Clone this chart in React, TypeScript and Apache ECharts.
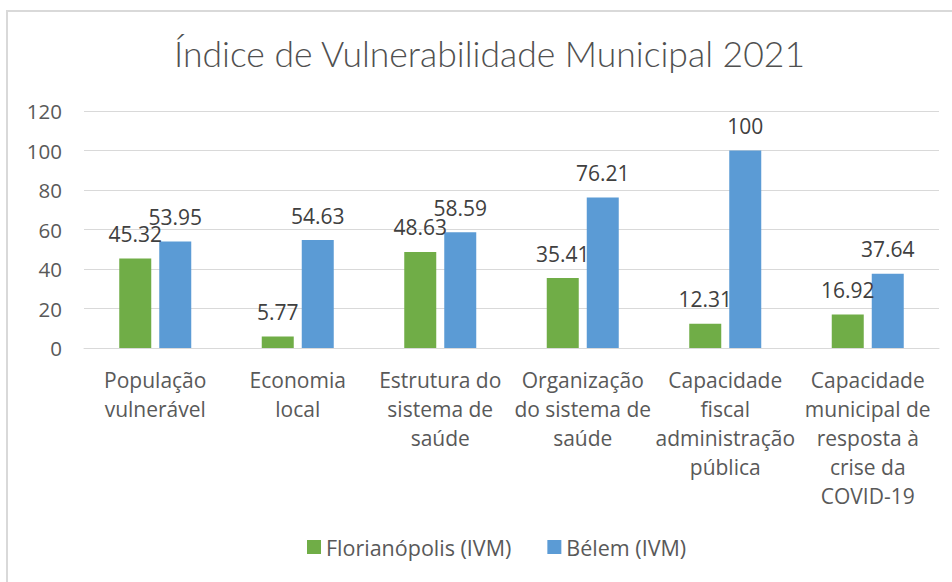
import React, { useEffect, useRef } from "react";
import * as echarts from "echarts";

const categories = [
  "População\nvulnerável",
  "Economia\nlocal",
  "Estrutura do\nsistema de\nsaúde",
  "Organização\ndo sistema de\nsaúde",
  "Capacidade\nfiscal\nadministração\npública",
  "Capacidade\nmunicipal de\nresposta à\ncrise da\nCOVID-19",
];
const florianopolis = [45.32, 5.77, 48.63, 35.41, 12.31, 16.92];
const belem = [53.95, 54.63, 58.59, 76.21, 100, 37.64];
const seriesNames = ["Florianópolis (IVM)", "Bélem (IVM)"];
const titleText = "Índice de Vulnerabilidade Municipal 2021";

const FONT = "'Open Sans', 'Noto Sans', sans-serif";
const TITLE_FONT = "Lato, 'Open Sans', sans-serif";

export default function App() {
  const ref = useRef<HTMLDivElement>(null);
  useEffect(() => {
    if (!ref.current) return;
    const chart = echarts.init(ref.current, undefined, { renderer: "svg" });
    const labelStyle = {
      show: true,
      position: "top" as const,
      distance: 14,
      fontSize: 21,
      color: "#404040",
      fontFamily: FONT,
    };
    chart.setOption({
      animation: false,
      backgroundColor: "#ffffff",
      textStyle: { fontFamily: FONT },
      title: {
        text: titleText,
        left: 169,
        top: 30,
        textStyle: {
          fontSize: 35.5,
          fontWeight: 300,
          color: "#505050",
          fontFamily: TITLE_FONT,
        },
      },
      graphic: [
        {
          type: "rect",
          shape: { x: 7, y: 11, width: 1000, height: 700 },
          style: { fill: "none", stroke: "#d9d9d9", lineWidth: 2 },
          silent: true,
          z: -1,
        },
      ],
      legend: {
        data: seriesNames,
        bottom: 19,
        left: 302,
        itemWidth: 14,
        itemHeight: 14,
        itemGap: 36,
        icon: "rect",
        textStyle: { fontSize: 21.5, color: "#595959", fontFamily: FONT },
      },
      grid: { left: 84, right: 13, top: 111, bottom: 234, containLabel: false },
      xAxis: {
        type: "category",
        data: categories,
        axisLine: { lineStyle: { color: "#d9d9d9", width: 1 } },
        axisTick: { show: false },
        axisLabel: {
          interval: 0,
          fontSize: 21,
          lineHeight: 29,
          color: "#595959",
          margin: 17,
          fontFamily: FONT,
        },
      },
      yAxis: {
        type: "value",
        min: 0,
        max: 120,
        interval: 20,
        axisLine: { show: false },
        axisTick: { show: false },
        splitLine: { lineStyle: { color: "#d9d9d9", width: 1 } },
        axisLabel: { fontSize: 20.5, color: "#595959", margin: 22, fontFamily: FONT },
      },
      series: [
        {
          name: seriesNames[0],
          type: "bar",
          data: florianopolis,
          barWidth: 32,
          barGap: "25%",
          itemStyle: { color: "#70AD47" },
          label: labelStyle,
        },
        {
          name: seriesNames[1],
          type: "bar",
          data: belem,
          barWidth: 32,
          barGap: "25%",
          itemStyle: { color: "#5B9BD5" },
          label: labelStyle,
        },
      ],
    });
    return () => chart.dispose();
  }, []);
  return (
    <div
      ref={ref}
      style={{ position: "absolute", left: 0, top: 0, width: 952, height: 582 }}
    />
  );
}
